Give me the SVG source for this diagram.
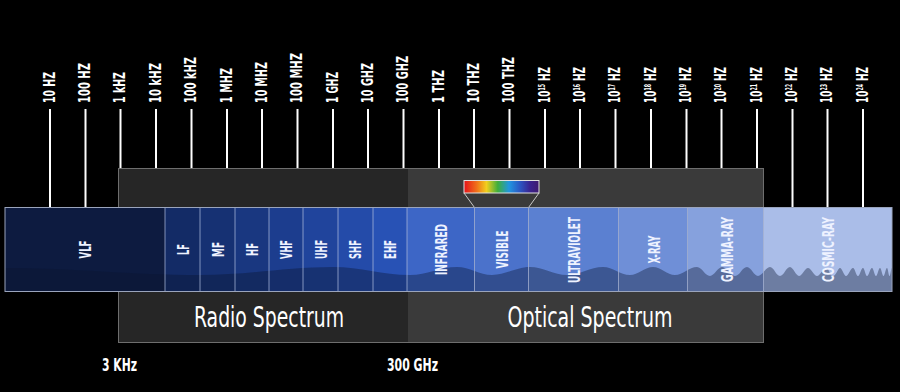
<svg xmlns="http://www.w3.org/2000/svg" width="900" height="392" viewBox="0 0 900 392">
<defs>
<style>
.tick{stroke:#ffffff;stroke-width:2}
.lbl{font-family:'Liberation Sans Narrow','DejaVu Sans Condensed','Roboto Condensed',sans-serif;font-size:15px;font-weight:bold;fill:#ffffff}
.blbl{font-family:'Liberation Sans Narrow','DejaVu Sans Condensed','Roboto Condensed',sans-serif;font-size:16px;font-weight:bold;fill:#eef2ff;text-anchor:middle}
.big{font-family:'Liberation Sans Narrow','DejaVu Sans Condensed','Roboto Condensed',sans-serif;font-size:28px;fill:#ffffff;text-anchor:middle}
.foot{font-family:'Liberation Sans Narrow','DejaVu Sans Condensed','Roboto Condensed',sans-serif;font-size:17px;font-weight:bold;fill:#ffffff}
.seg{stroke:#a9b7da;stroke-opacity:0.75;stroke-width:1}
</style>
<linearGradient id="rainbow" x1="0" y1="0" x2="1" y2="0">
<stop offset="0" stop-color="#e5121b"/>
<stop offset="0.17" stop-color="#f0711a"/>
<stop offset="0.3" stop-color="#f2cf1e"/>
<stop offset="0.45" stop-color="#3fae3c"/>
<stop offset="0.6" stop-color="#2196e0"/>
<stop offset="0.75" stop-color="#2c55c2"/>
<stop offset="0.88" stop-color="#3a2390"/>
<stop offset="1" stop-color="#3f1a6e"/>
</linearGradient>
</defs>
<rect x="0" y="0" width="900" height="392" fill="#000000"/>

<g id="spectrum-panels">
<rect x="118.5" y="168.5" width="289" height="174" fill="#262626"/>
<rect x="407.5" y="168.5" width="356" height="174" fill="#3a3a3a"/>
<rect x="118.5" y="168.5" width="645" height="174" fill="none" stroke="#6e6e6e" stroke-width="1"/>
</g>

<g id="connectors">
<line class="tick" x1="50" y1="109" x2="50" y2="207"/>
<line class="tick" x1="85.5" y1="109" x2="85.5" y2="207"/>
<line class="tick" x1="120.5" y1="109" x2="120.5" y2="168"/>
<line class="tick" x1="156" y1="109" x2="156" y2="168"/>
<line class="tick" x1="191.5" y1="109" x2="191.5" y2="168"/>
<line class="tick" x1="227" y1="109" x2="227" y2="168"/>
<line class="tick" x1="262" y1="109" x2="262" y2="168"/>
<line class="tick" x1="297.5" y1="109" x2="297.5" y2="168"/>
<line class="tick" x1="333" y1="109" x2="333" y2="168"/>
<line class="tick" x1="368" y1="109" x2="368" y2="168"/>
<line class="tick" x1="403.5" y1="109" x2="403.5" y2="168"/>
<line class="tick" x1="439" y1="109" x2="439" y2="168"/>
<line class="tick" x1="474" y1="109" x2="474" y2="168"/>
<line class="tick" x1="509.5" y1="109" x2="509.5" y2="168"/>
<line class="tick" x1="545" y1="109" x2="545" y2="168"/>
<line class="tick" x1="580" y1="109" x2="580" y2="168"/>
<line class="tick" x1="615.5" y1="109" x2="615.5" y2="168"/>
<line class="tick" x1="651" y1="109" x2="651" y2="168"/>
<line class="tick" x1="686.5" y1="109" x2="686.5" y2="168"/>
<line class="tick" x1="721.5" y1="109" x2="721.5" y2="168"/>
<line class="tick" x1="757" y1="109" x2="757" y2="168"/>
<line class="tick" x1="792.5" y1="109" x2="792.5" y2="207"/>
<line class="tick" x1="827.5" y1="109" x2="827.5" y2="207"/>
<line class="tick" x1="863" y1="109" x2="863" y2="207"/>
<line x1="464" y1="193" x2="474.5" y2="207.5" stroke="#c8c8c8" stroke-width="1"/>
<line x1="539" y1="193" x2="528.5" y2="207.5" stroke="#c8c8c8" stroke-width="1"/>
</g>

<g id="frequency-labels">
<text class="lbl" transform="translate(54.5,103) rotate(-90)" textLength="31" lengthAdjust="spacingAndGlyphs">10 HZ</text>
<text class="lbl" transform="translate(90,103) rotate(-90)" textLength="40" lengthAdjust="spacingAndGlyphs">100 HZ</text>
<text class="lbl" transform="translate(125,103) rotate(-90)" textLength="31" lengthAdjust="spacingAndGlyphs">1 kHZ</text>
<text class="lbl" transform="translate(160.5,103) rotate(-90)" textLength="40" lengthAdjust="spacingAndGlyphs">10 kHZ</text>
<text class="lbl" transform="translate(196,103) rotate(-90)" textLength="46" lengthAdjust="spacingAndGlyphs">100 kHZ</text>
<text class="lbl" transform="translate(231.5,103) rotate(-90)" textLength="35" lengthAdjust="spacingAndGlyphs">1 MHZ</text>
<text class="lbl" transform="translate(266.5,103) rotate(-90)" textLength="41" lengthAdjust="spacingAndGlyphs">10 MHZ</text>
<text class="lbl" transform="translate(302,103) rotate(-90)" textLength="50" lengthAdjust="spacingAndGlyphs">100 MHZ</text>
<text class="lbl" transform="translate(337.5,103) rotate(-90)" textLength="31" lengthAdjust="spacingAndGlyphs">1 GHZ</text>
<text class="lbl" transform="translate(372.5,103) rotate(-90)" textLength="40" lengthAdjust="spacingAndGlyphs">10 GHZ</text>
<text class="lbl" transform="translate(408,103) rotate(-90)" textLength="47" lengthAdjust="spacingAndGlyphs">100 GHZ</text>
<text class="lbl" transform="translate(443.5,103) rotate(-90)" textLength="33" lengthAdjust="spacingAndGlyphs">1 THZ</text>
<text class="lbl" transform="translate(478.5,103) rotate(-90)" textLength="40" lengthAdjust="spacingAndGlyphs">10 THZ</text>
<text class="lbl" transform="translate(514,103) rotate(-90)" textLength="46" lengthAdjust="spacingAndGlyphs">100 THZ</text>
<text class="lbl" transform="translate(549.5,103) rotate(-90)" textLength="36" lengthAdjust="spacingAndGlyphs">10<tspan font-size="8" dy="-5">15</tspan><tspan dy="5"> HZ</tspan></text>
<text class="lbl" transform="translate(584.5,103) rotate(-90)" textLength="36" lengthAdjust="spacingAndGlyphs">10<tspan font-size="8" dy="-5">16</tspan><tspan dy="5"> HZ</tspan></text>
<text class="lbl" transform="translate(620,103) rotate(-90)" textLength="36" lengthAdjust="spacingAndGlyphs">10<tspan font-size="8" dy="-5">17</tspan><tspan dy="5"> HZ</tspan></text>
<text class="lbl" transform="translate(655.5,103) rotate(-90)" textLength="36" lengthAdjust="spacingAndGlyphs">10<tspan font-size="8" dy="-5">18</tspan><tspan dy="5"> HZ</tspan></text>
<text class="lbl" transform="translate(691,103) rotate(-90)" textLength="36" lengthAdjust="spacingAndGlyphs">10<tspan font-size="8" dy="-5">19</tspan><tspan dy="5"> HZ</tspan></text>
<text class="lbl" transform="translate(726,103) rotate(-90)" textLength="36" lengthAdjust="spacingAndGlyphs">10<tspan font-size="8" dy="-5">20</tspan><tspan dy="5"> HZ</tspan></text>
<text class="lbl" transform="translate(761.5,103) rotate(-90)" textLength="36" lengthAdjust="spacingAndGlyphs">10<tspan font-size="8" dy="-5">21</tspan><tspan dy="5"> HZ</tspan></text>
<text class="lbl" transform="translate(797,103) rotate(-90)" textLength="36" lengthAdjust="spacingAndGlyphs">10<tspan font-size="8" dy="-5">22</tspan><tspan dy="5"> HZ</tspan></text>
<text class="lbl" transform="translate(832,103) rotate(-90)" textLength="36" lengthAdjust="spacingAndGlyphs">10<tspan font-size="8" dy="-5">23</tspan><tspan dy="5"> HZ</tspan></text>
<text class="lbl" transform="translate(867.5,103) rotate(-90)" textLength="36" lengthAdjust="spacingAndGlyphs">10<tspan font-size="8" dy="-5">24</tspan><tspan dy="5"> HZ</tspan></text>
</g>

<g id="band">
<rect x="5" y="207.5" width="160" height="84" fill="#0d1b40"/>
<rect x="165" y="207.5" width="35" height="84" fill="#132b66"/>
<rect x="200" y="207.5" width="35" height="84" fill="#163173"/>
<rect x="235" y="207.5" width="34" height="84" fill="#193780"/>
<rect x="269" y="207.5" width="34" height="84" fill="#1c3d8e"/>
<rect x="303" y="207.5" width="35" height="84" fill="#20449c"/>
<rect x="338" y="207.5" width="35" height="84" fill="#244ba9"/>
<rect x="373" y="207.5" width="34" height="84" fill="#2852b5"/>
<rect x="407" y="207.5" width="67.5" height="84" fill="#3d66c6"/>
<rect x="474.5" y="207.5" width="54" height="84" fill="#4b72cb"/>
<rect x="528.5" y="207.5" width="90" height="84" fill="#5b80d1"/>
<rect x="618.5" y="207.5" width="69" height="84" fill="#6f8fd7"/>
<rect x="687.5" y="207.5" width="76" height="84" fill="#86a1dd"/>
<rect x="763.5" y="207.5" width="128.5" height="84" fill="#aabde8"/>
<path id="wave" d="M5,268 C74,268 131,275 200,275 C248,275 285,267 333,267 C361,267 382,275 410,275 C427,275 440,267 457,267 C470,267 479,275 492,275 C506,275 516,267 530,267 C543,267 554,275 567,275 C580,275 590,267 603,267 C613,267 620,275 630,275 C638,275 645,267 653,267 C661,267 667,275 675,275 C683,275 689,267 697,267 C702,267 705,276 710,276 C714,276 718,267 722,267 C727,267 730,276 735,276 C740,276 742,267 747,267 C751,267 754,276 758,276 C762,276 766,267 770,267 C774,267 776,276 780,276 C784,276 786,267 790,267 C793,267 796,276 799,276 C802,276 805,268 808,268 C811,268 814,276 817,276 C820,276 823,268 826,268 C829,268 830,276 833,276 C836,276 838,268 840,268 C842,268 844,276 846,276 C848.5,276 850.5,268 853,268 C855,268 856,276 858,276 C860,276 861,268 863,268 C864.5,268 865.5,276 867,276 C869,276 870,268 872,268 C873.5,268 874.5,276 876,276 C877.5,276 878.5,268 880,268 C881.3,268 882.2,276 883.5,276 C884.8,276 885.7,268 887,268 C888,268 888.6,276 889.5,276 C890.5,276 891,268 892,268 L892,291.5 L5,291.5 Z" fill="#0a1530" fill-opacity="0.38"/>
<g class="seg">
<line x1="165" y1="208" x2="165" y2="291"/>
<line x1="200" y1="208" x2="200" y2="291"/>
<line x1="235" y1="208" x2="235" y2="291"/>
<line x1="269" y1="208" x2="269" y2="291"/>
<line x1="303" y1="208" x2="303" y2="291"/>
<line x1="338" y1="208" x2="338" y2="291"/>
<line x1="373" y1="208" x2="373" y2="291"/>
<line x1="407" y1="208" x2="407" y2="291"/>
<line x1="474.5" y1="208" x2="474.5" y2="291"/>
<line x1="528.5" y1="208" x2="528.5" y2="291"/>
<line x1="618.5" y1="208" x2="618.5" y2="291"/>
<line x1="687.5" y1="208" x2="687.5" y2="291"/>
<line x1="763.5" y1="208" x2="763.5" y2="291"/>
</g>
<rect x="5" y="207.5" width="887" height="84" fill="none" stroke="#9aa4bc" stroke-width="1"/>
</g>

<g id="band-labels">
<text class="blbl" transform="translate(91,249.5) rotate(-90)" textLength="18" lengthAdjust="spacingAndGlyphs">VLF</text>
<text class="blbl" transform="translate(188.5,249.5) rotate(-90)" textLength="11" lengthAdjust="spacingAndGlyphs">LF</text>
<text class="blbl" transform="translate(223.5,249.5) rotate(-90)" textLength="15" lengthAdjust="spacingAndGlyphs">MF</text>
<text class="blbl" transform="translate(258,249.5) rotate(-90)" textLength="13" lengthAdjust="spacingAndGlyphs">HF</text>
<text class="blbl" transform="translate(292,249.5) rotate(-90)" textLength="19" lengthAdjust="spacingAndGlyphs">VHF</text>
<text class="blbl" transform="translate(326.5,249.5) rotate(-90)" textLength="19" lengthAdjust="spacingAndGlyphs">UHF</text>
<text class="blbl" transform="translate(361,249.5) rotate(-90)" textLength="19" lengthAdjust="spacingAndGlyphs">SHF</text>
<text class="blbl" transform="translate(396,249.5) rotate(-90)" textLength="19" lengthAdjust="spacingAndGlyphs">EHF</text>
<text class="blbl" transform="translate(446.5,249.5) rotate(-90)" textLength="51" lengthAdjust="spacingAndGlyphs">INFRARED</text>
<text class="blbl" transform="translate(507.5,249.5) rotate(-90)" textLength="38" lengthAdjust="spacingAndGlyphs">VISIBLE</text>
<text class="blbl" transform="translate(579.5,250) rotate(-90)" textLength="66" lengthAdjust="spacingAndGlyphs">ULTRAVIOLET</text>
<text class="blbl" transform="translate(659.5,249.5) rotate(-90)" textLength="28" lengthAdjust="spacingAndGlyphs">X-RAY</text>
<text class="blbl" transform="translate(732.5,249.5) rotate(-90)" textLength="65" lengthAdjust="spacingAndGlyphs">GAMMA-RAY</text>
<text class="blbl" transform="translate(833.5,249.5) rotate(-90)" textLength="65" lengthAdjust="spacingAndGlyphs">COSMIC-RAY</text>
</g>

<g id="visible-bar">
<rect x="464" y="180.5" width="75" height="12.5" fill="url(#rainbow)" stroke="#e0e0e0" stroke-width="1"/>
</g>

<g id="spectrum-titles">
<text class="big" x="269" y="327" textLength="150" lengthAdjust="spacingAndGlyphs">Radio Spectrum</text>
<text class="big" x="590" y="327" textLength="165" lengthAdjust="spacingAndGlyphs">Optical Spectrum</text>
</g>

<g id="boundary-labels">
<text class="foot" x="102" y="371" textLength="35" lengthAdjust="spacingAndGlyphs">3 KHz</text>
<text class="foot" x="387" y="371" textLength="51" lengthAdjust="spacingAndGlyphs">300 GHz</text>
</g>
</svg>
